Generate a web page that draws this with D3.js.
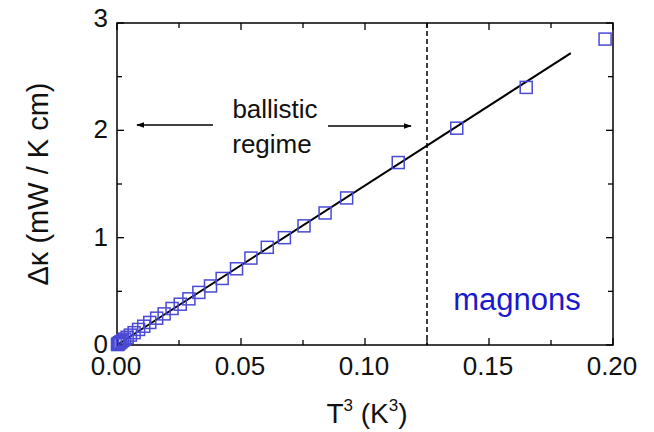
<!DOCTYPE html>
<html><head><meta charset="utf-8">
<script src="https://cdn.jsdelivr.net/npm/d3@7"></script>
<style>body{margin:0;background:#fff}svg{display:block}text{font-family:"Liberation Sans",Arial,sans-serif}</style>
</head><body>
<svg id="c" width="654" height="432"></svg>
<script>
const xVals = [0.1968,0.1650,0.1370,0.1134,0.0926,0.0839,0.0754,0.0675,0.0606,0.0540,0.0482,0.0424,0.0377,0.0330,0.0290,0.0255,0.0222,0.0190,0.0160,0.0132,0.0108,0.0087,0.0069,0.0054,0.0041,0.0031,0.0023,0.0016,0.0011,0.0007,0.0004,0.0002];
const yVals = [2.85,2.40,2.02,1.70,1.37,1.23,1.11,1.00,0.91,0.81,0.71,0.62,0.55,0.49,0.43,0.38,0.34,0.29,0.25,0.21,0.175,0.145,0.115,0.092,0.072,0.055,0.042,0.030,0.021,0.014,0.008,0.004];
const fitX = [0, 0.183];
const fitY = [0, 2.72];
const boundaryX = 0.125;
const xTicks = [0, 0.05, 0.10, 0.15, 0.20];
const xTickLabels = ["0.00","0.05","0.10","0.15","0.20"];
const yTicks = [0, 1, 2, 3];
const yTickLabels = ["0","1","2","3"];

const W = 654, H = 432;
const m = {l:117, r:41, t:23, b:87};
const svg = d3.select("#c");
const x = d3.scaleLinear().domain([0,0.2]).range([m.l, W-m.r]);
const y = d3.scaleLinear().domain([0,3]).range([H-m.b, m.t]);

// frame
svg.append("rect").attr("x",m.l).attr("y",m.t).attr("width",W-m.r-m.l).attr("height",H-m.b-m.t)
  .attr("fill","none").attr("stroke","#000").attr("stroke-width",1.5);

// ticks (inward, mirrored)
const xMinor = d3.range(0, 0.2001, 0.025);
const yMinor = d3.range(0, 3.001, 0.5);
const tg = svg.append("g").attr("stroke","#000").attr("stroke-width",1.3);
xMinor.forEach(v => {
  const L = (Math.abs(v/0.05 - Math.round(v/0.05))<1e-6) ? 7 : 5;
  tg.append("line").attr("x1",x(v)).attr("x2",x(v)).attr("y1",y(0)).attr("y2",y(0)-L);
  tg.append("line").attr("x1",x(v)).attr("x2",x(v)).attr("y1",y(3)).attr("y2",y(3)+L);
});
yMinor.forEach(v => {
  const L = (Math.abs(v - Math.round(v))<1e-6) ? 7 : 5;
  tg.append("line").attr("x1",x(0)).attr("x2",x(0)+L).attr("y1",y(v)).attr("y2",y(v));
  tg.append("line").attr("x1",x(0.2)).attr("x2",x(0.2)-L).attr("y1",y(v)).attr("y2",y(v));
});

// tick labels
xTicks.forEach((v,i) => {
  svg.append("text").attr("x",x(v)-1).attr("y",y(0)+30).attr("text-anchor","middle")
    .attr("font-size",26).attr("fill","#111").text(xTickLabels[i]);
});
yTicks.forEach((v,i) => {
  svg.append("text").attr("x",x(0)-9).attr("y",y(v) + (v===3 ? 4 : 8)).attr("text-anchor","end")
    .attr("font-size",26).attr("fill","#111").text(yTickLabels[i]);
});

// axis titles
const xt = svg.append("text").attr("x",367).attr("y",423).attr("text-anchor","middle").attr("font-size",28).attr("fill","#111");
xt.append("tspan").text("T");
xt.append("tspan").attr("font-size",17).attr("dy",-12).text("3");
xt.append("tspan").attr("dy",12).text(" (K");
xt.append("tspan").attr("font-size",17).attr("dy",-12).text("3");
xt.append("tspan").attr("dy",12).text(")");

svg.append("text").attr("transform","translate(48,184) rotate(-90)").attr("text-anchor","middle")
  .attr("font-size",29).attr("fill","#111").text("Δκ (mW / K cm)");

// dashed boundary
svg.append("line").attr("x1",x(boundaryX)).attr("x2",x(boundaryX)).attr("y1",y(3)).attr("y2",y(0))
  .attr("stroke","#000").attr("stroke-width",1.5).attr("stroke-dasharray","5,3");

// fit line
svg.append("line").attr("x1",x(fitX[0])).attr("y1",y(fitY[0])).attr("x2",x(fitX[1])).attr("y2",y(fitY[1]))
  .attr("stroke","#000").attr("stroke-width",2);

// data squares
const s = 12;
svg.append("g").selectAll("rect").data(xVals.map((v,i)=>[v,yVals[i]])).join("rect")
  .attr("x",d=>x(d[0])-s/2).attr("y",d=>y(d[1])-s/2).attr("width",s).attr("height",s)
  .attr("fill","none").attr("stroke","#4a4ad6").attr("stroke-width",1.5);

// annotations
svg.append("text").attr("x",275).attr("y",118).attr("text-anchor","middle").attr("font-size",26).attr("fill","#111").text("ballistic");
svg.append("text").attr("x",272).attr("y",153).attr("text-anchor","middle").attr("font-size",26).attr("fill","#111").text("regime");
svg.append("defs").append("marker").attr("id","ah").attr("viewBox","0 0 10 10").attr("refX",9).attr("refY",5)
  .attr("markerWidth",8).attr("markerHeight",8).attr("markerUnits","userSpaceOnUse").attr("orient","auto")
  .append("path").attr("d","M0,1.5 L10,5 L0,8.5 Z").attr("fill","#000");
svg.append("line").attr("x1",213).attr("y1",125).attr("x2",137).attr("y2",125).attr("stroke","#000").attr("stroke-width",1.5).attr("marker-end","url(#ah)");
svg.append("line").attr("x1",328).attr("y1",126).attr("x2",411).attr("y2",126).attr("stroke","#000").attr("stroke-width",1.5).attr("marker-end","url(#ah)");

svg.append("text").attr("x",517).attr("y",310).attr("text-anchor","middle").attr("font-size",31).attr("fill","#1a1acc").text("magnons");
</script>
</body></html>
